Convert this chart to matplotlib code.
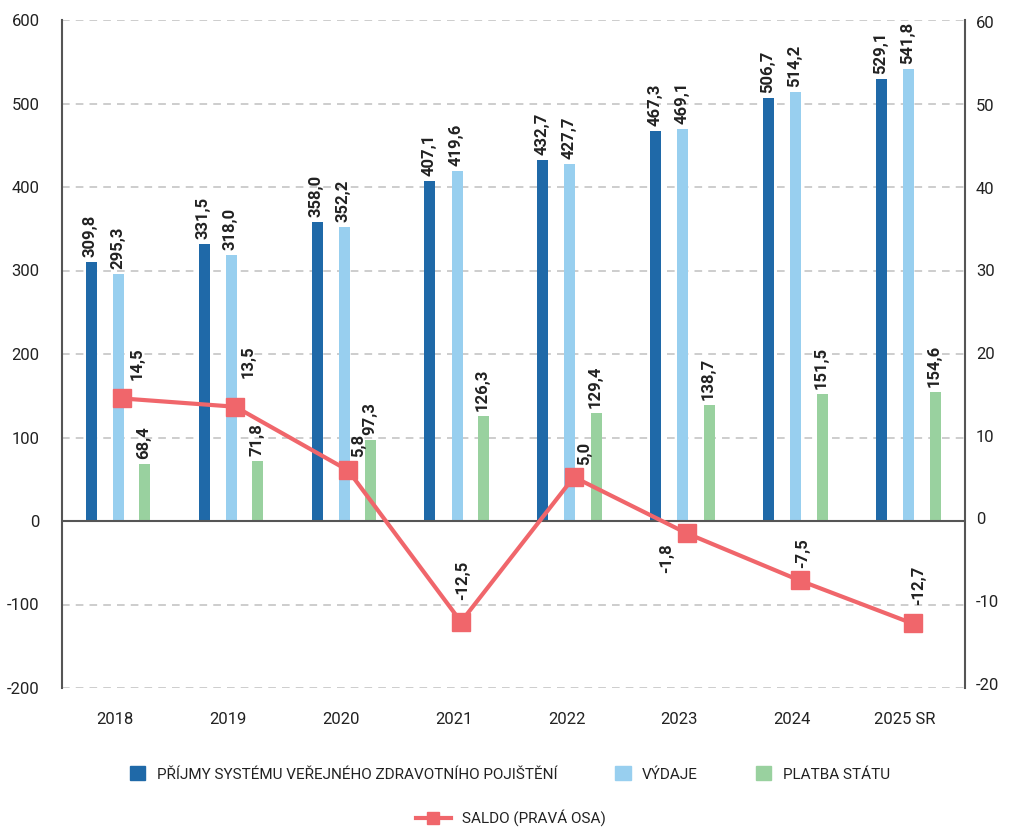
import matplotlib.pyplot as plt
import numpy as np
from matplotlib.patches import Patch
from matplotlib.lines import Line2D

plt.rcParams['font.family'] = ['Roboto', 'DejaVu Sans']
plt.rcParams['axes.unicode_minus'] = False

# data
roky = ['2018', '2019', '2020', '2021', '2022', '2023', '2024', '2025 SR']
prijmy = [309.8, 331.5, 358.0, 407.1, 432.7, 467.3, 506.7, 529.1]
vydaje = [295.3, 318.0, 352.2, 419.6, 427.7, 469.1, 514.2, 541.8]
platba = [68.4, 71.8, 97.3, 126.3, 129.4, 138.7, 151.5, 154.6]
saldo = [14.5, 13.5, 5.8, -12.5, 5.0, -1.8, -7.5, -12.7]

# label placement for saldo (pixels from marker)
saldo_off = [(15, 18), (13, 29), (10, 13), (2, 22), (11, 12), (-20, -10), (3, 12), (6, 18)]

c_prijmy = '#1f69a8'
c_vydaje = '#98cfef'
c_platba = '#99d19f'
c_saldo = '#f0666b'
c_osa = '#555555'

def fmt(v):
    return f'{v:.1f}'.replace('.', ',')

fig = plt.figure(figsize=(10.11, 8.27), dpi=100)
ax = fig.add_axes([62 / 1011, 1 - 688 / 827, (965 - 62) / 1011, (688 - 20) / 827])
x = np.arange(len(roky))
w = 0.097

series = [(prijmy, -0.24, c_prijmy), (vydaje, 0.0, c_vydaje), (platba, 0.235, c_platba)]
for vals, off, col in series:
    ax.bar(x + off, vals, width=w, color=col, zorder=2)
    for xi, v in zip(x + off, vals):
        ax.annotate(fmt(v), (xi, v), xytext=(-1, 5), textcoords='offset pixels',
                    rotation=90, ha='center', va='bottom', fontsize=12,
                    fontweight='bold', color='#222222', zorder=5)

ax.set_xlim(-0.5, len(roky) - 0.5)
ax.set_ylim(-200, 600)
ax.set_yticks(np.arange(-200, 601, 100))
ax.set_xticks(x - 0.03)
ax.set_xticklabels(roky)
ax.grid(axis='y', color='#c0c0c0', linestyle=(0, (5, 4)), linewidth=1.1, zorder=0)
ax.axhline(0, color=c_osa, linewidth=1.5, zorder=3)
for s in ['top', 'bottom', 'right']:
    ax.spines[s].set_visible(False)
ax.spines['left'].set_color(c_osa)
ax.spines['left'].set_linewidth(1.5)
ax.tick_params(axis='y', length=0, pad=16, labelsize=12, labelcolor='#222222')
ax.tick_params(axis='x', length=0, pad=17, labelsize=12, labelcolor='#222222')

ax2 = ax.twinx()
ax2.plot(x + 0.035, saldo, color=c_saldo, linewidth=3, marker='s', markersize=13, zorder=4)
for xi, v, (dx, dy) in zip(x + 0.035, saldo, saldo_off):
    ax2.annotate(fmt(v), (xi, v), xytext=(dx, dy), textcoords='offset pixels',
                 rotation=90, ha='center', va='bottom' if dy > 0 else 'top',
                 fontsize=12, fontweight='bold', color='#222222')
ax2.set_ylim(-20.5, 60.25)
ax2.set_yticks(np.arange(-20, 61, 10))
for s in ['top', 'bottom', 'left']:
    ax2.spines[s].set_visible(False)
ax2.spines['right'].set_color(c_osa)
ax2.spines['right'].set_linewidth(1.5)
ax2.tick_params(axis='y', length=0, pad=8, labelsize=12, labelcolor='#222222')

h1 = [Patch(color=c_prijmy), Patch(color=c_vydaje), Patch(color=c_platba)]
l1 = ['PŘÍJMY SYSTÉMU VEŘEJNÉHO ZDRAVOTNÍHO POJIŠTĚNÍ', 'VÝDAJE', 'PLATBA STÁTU']
leg1 = fig.legend(h1, l1, loc='center', bbox_to_anchor=(510 / 1011, 1 - 774 / 827), ncol=3,
                  frameon=False, fontsize=11, handlelength=1.0, handleheight=1.0,
                  handletextpad=0.75, columnspacing=3.8)
h2 = [Line2D([], [], color=c_saldo, linewidth=3, marker='s', markersize=9)]
leg2 = fig.legend(h2, ['SALDO (PRAVÁ OSA)'], loc='center',
                  bbox_to_anchor=(511 / 1011, 1 - 818 / 827), frameon=False,
                  fontsize=11, handlelength=2.3, handletextpad=0.75)
for t in leg1.get_texts() + leg2.get_texts():
    t.set_color('#222222')

fig.savefig('out.png', dpi=100)
